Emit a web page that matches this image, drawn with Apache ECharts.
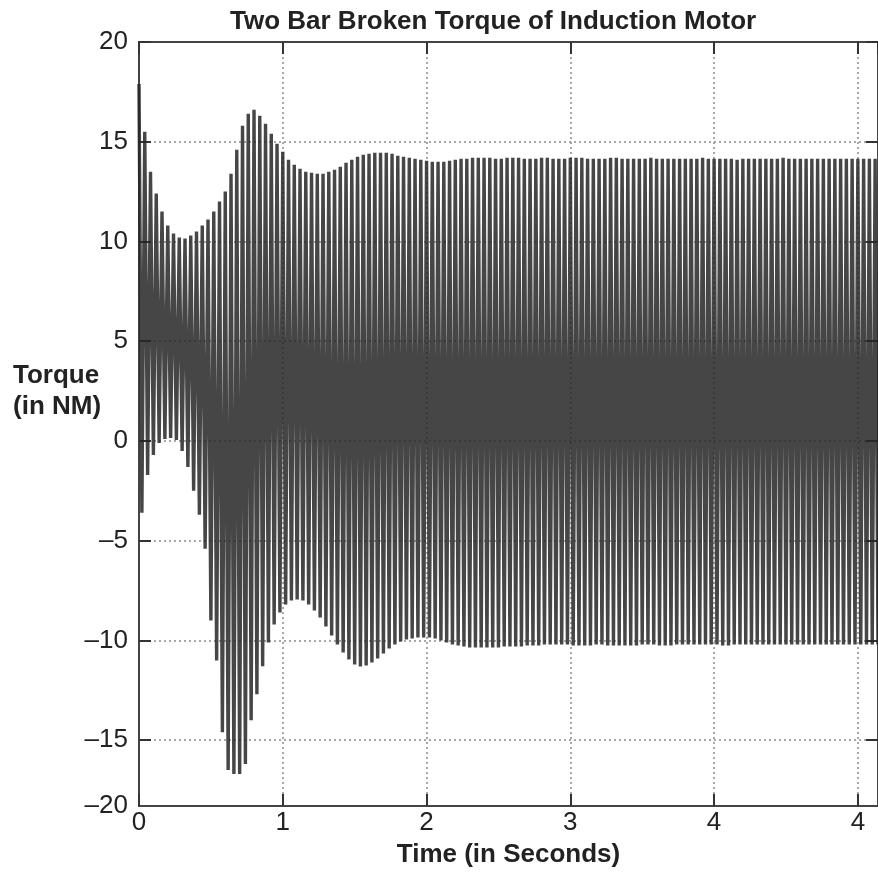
<!DOCTYPE html>
<html>
<head>
<meta charset="utf-8">
<title>Two Bar Broken Torque of Induction Motor</title>
<script src="https://cdn.jsdelivr.net/npm/echarts@6/dist/echarts.min.js"></script>
<style>
  html, body { margin: 0; padding: 0; background: #fff; }
  #chart { width: 878px; height: 875px; }
</style>
</head>
<body>
<div id="chart"></div>
<script>
// peaks of the torque oscillation, one every peakStep seconds starting at t = 0
const peakStep = 0.04;
const upperPeaks = [
  17.9, 15.5, 13.5, 12.4, 11.5, 10.8, 10.4, 10.2, 10.15, 10.3,
  10.5, 10.8, 11.1, 11.5, 12.0, 12.5, 13.4, 14.6, 15.8, 16.4,
  16.6, 16.3, 15.9, 15.4, 14.9, 14.5, 14.1, 13.85, 13.65, 13.5,
  13.45, 13.4, 13.4, 13.5, 13.6, 13.75, 13.95, 14.1, 14.25, 14.35,
  14.4, 14.45, 14.45, 14.45, 14.4, 14.3, 14.25, 14.2, 14.15, 14.1,
  14.05, 14.0, 14.0, 14.0, 14.05, 14.1,
  14.15, 14.15, 14.2, 14.2, 14.2, 14.2, 14.15, 14.15, 14.2, 14.2,
  14.2, 14.15, 14.15, 14.15, 14.2, 14.2, 14.15, 14.15, 14.15, 14.2,
  14.2, 14.2, 14.15, 14.15, 14.15, 14.15, 14.2, 14.2, 14.15, 14.15,
  14.15, 14.15, 14.15, 14.2, 14.15, 14.15, 14.15, 14.15, 14.15, 14.15,
  14.15, 14.15, 14.2, 14.15, 14.15, 14.15, 14.15, 14.15, 14.1, 14.15,
  14.15, 14.15, 14.15, 14.15, 14.15, 14.15, 14.2, 14.15, 14.15, 14.15,
  14.15, 14.15, 14.15, 14.15, 14.15, 14.15, 14.15, 14.15, 14.15, 14.15,
  14.15, 14.15, 14.15
];
// troughs, half a step after each peak
const lowerTroughs = [
  -3.6, -1.7, -0.7, -0.1, 0.1, 0.15, 0.05, -0.5, -1.3, -2.5,
  -3.7, -5.4, -9.0, -11.0, -14.6, -16.5, -16.7, -16.7, -16.2, -14.0,
  -12.7, -11.3, -10.1, -9.2, -8.6, -8.2, -8.0, -7.95, -8.0, -8.2,
  -8.5, -8.85, -9.3, -9.75, -10.2, -10.6, -10.95, -11.2, -11.3, -11.25,
  -11.1, -10.9, -10.65, -10.4, -10.2, -10.05, -9.95, -9.9, -9.85, -9.85,
  -9.85, -9.9, -10.0, -10.1, -10.2, -10.25, -10.3,
  -10.35, -10.35, -10.35, -10.35, -10.35, -10.35, -10.3, -10.3, -10.3, -10.3,
  -10.25, -10.25, -10.25, -10.2, -10.2, -10.2, -10.2, -10.2, -10.25, -10.25,
  -10.25, -10.25, -10.2, -10.2, -10.25, -10.25, -10.25, -10.25, -10.25, -10.25,
  -10.2, -10.2, -10.2, -10.25, -10.25, -10.25, -10.2, -10.2, -10.2, -10.2,
  -10.2, -10.2, -10.2, -10.2, -10.25, -10.25, -10.2, -10.2, -10.2, -10.2,
  -10.2, -10.2, -10.2, -10.2, -10.2, -10.2, -10.2, -10.2, -10.2, -10.2,
  -10.2, -10.2, -10.2, -10.2, -10.2, -10.2, -10.2, -10.2, -10.2, -10.2,
  -10.2, -10.2
];

const xTickLabels = ["0", "1", "2", "3", "4", "4"];
const yTickValues = [-18.3, -15, -10, -5, 0, 5, 10, 15, 20];
const yTickLabels = ["\u201320", "\u201315", "\u201310", "\u20135", "0", "5", "10", "15", "20"];

const FONT = "'Liberation Sans', Arial, sans-serif";

// zigzag through peak, trough, peak, ...
const torque = [];
upperPeaks.forEach((v, i) => {
  torque.push([i * peakStep, v]);
  if (i < lowerTroughs.length) {
    torque.push([i * peakStep + peakStep / 2, lowerTroughs[i]]);
  }
});

const chart = echarts.init(document.getElementById("chart"));

const dotted = { show: true, lineStyle: { color: "#8a8a8a", type: [2, 3], width: 1.5 } };
const tick = { show: true, inside: true, length: 12, lineStyle: { color: "#333", width: 2 } };
const axisLine = { show: true, onZero: false, lineStyle: { color: "#444", width: 2 } };

chart.setOption({
  animation: false,
  backgroundColor: "#fff",
  title: {
    text: "Two Bar Broken Torque of Induction Motor",
    left: 230,
    top: 9,
    padding: 0,
    textStyle: { fontFamily: FONT, fontSize: 26, fontWeight: "bold", color: "#222" }
  },
  graphic: [{
    type: "text",
    left: 13,
    top: 360,
    style: {
      text: "Torque\n(in NM)",
      font: "bold 26px " + FONT,
      fill: "#222",
      lineHeight: 31,
      align: "center"
    }
  }],
  grid: {
    left: 139, right: -2, top: 42, bottom: 69,
    show: true, borderColor: "#444", borderWidth: 2
  },
  xAxis: [{
    type: "value",
    min: 0,
    max: 5.14,
    interval: 1,
    name: "Time (in Seconds)",
    nameLocation: "middle",
    nameGap: 36,
    nameTextStyle: { fontFamily: FONT, fontSize: 26, fontWeight: "bold", color: "#222" },
    axisLine: axisLine,
    axisTick: tick,
    splitLine: dotted,
    axisLabel: {
      showMaxLabel: false,
      margin: 4,
      fontFamily: FONT, fontSize: 26, color: "#222",
      formatter: (v) => Number.isInteger(v) ? xTickLabels[v] : ""
    }
  }, {
    type: "value",
    position: "top",
    min: 0,
    max: 5.14,
    interval: 1,
    axisLine: axisLine,
    axisTick: tick,
    axisLabel: { show: false },
    splitLine: { show: false }
  }],
  yAxis: [{
    type: "value",
    min: -18.3,
    max: 20,
    axisLine: axisLine,
    axisTick: Object.assign({}, tick, { customValues: yTickValues.slice(1) }),
    splitLine: dotted,
    axisLabel: {
      customValues: yTickValues,
      margin: 11,
      fontFamily: FONT, fontSize: 26, color: "#222",
      formatter: (v) => {
        const i = yTickValues.indexOf(v);
        return i >= 0 ? yTickLabels[i] : "";
      }
    }
  }, {
    type: "value",
    position: "right",
    min: -18.3,
    max: 20,
    axisLine: axisLine,
    axisTick: Object.assign({}, tick, { customValues: yTickValues.slice(1) }),
    axisLabel: { show: false },
    splitLine: { show: false }
  }],
  series: [{
    type: "line",
    data: torque,
    showSymbol: false,
    symbol: "none",
    sampling: "none",
    lineStyle: { color: "#262626", width: 3.4, opacity: 0.85, join: "bevel" },
    z: 3
  }]
});
</script>
</body>
</html>
